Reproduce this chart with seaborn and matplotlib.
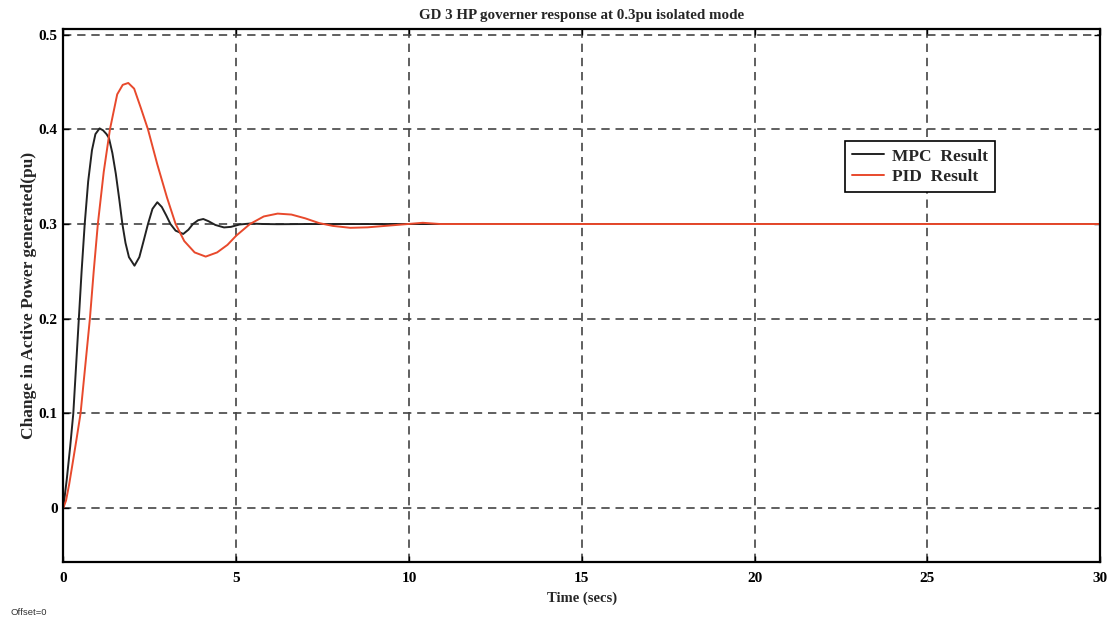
import numpy as np
import pandas as pd
import matplotlib
matplotlib.use("Agg")
import matplotlib.pyplot as plt
import seaborn as sns

# ---- data ----
mpc_t = [0, 0.1, 0.2, 0.29, 0.37, 0.45, 0.53, 0.62, 0.72, 0.83, 0.93, 1.05, 1.15, 1.25,
         1.32, 1.42, 1.52, 1.62, 1.71, 1.8, 1.9, 2.06, 2.2, 2.33, 2.45, 2.58, 2.72, 2.85,
         2.98, 3.1, 3.25, 3.47, 3.62, 3.75, 3.9, 4.05, 4.2, 4.4, 4.65, 4.85, 5.1, 5.4,
         5.8, 6.2, 7.0, 10.0, 30.0]
mpc_y = [0, 0.03, 0.065, 0.1, 0.15, 0.2, 0.25, 0.3, 0.345, 0.378, 0.395, 0.401, 0.399, 0.395,
         0.391, 0.375, 0.353, 0.326, 0.3, 0.28, 0.265, 0.256, 0.265, 0.283, 0.3, 0.316,
         0.323, 0.318, 0.309, 0.3, 0.293, 0.2895, 0.294, 0.3, 0.304, 0.3053, 0.303, 0.299,
         0.2964, 0.297, 0.2995, 0.3005, 0.3, 0.2998, 0.3, 0.3, 0.3]

pid_t = [0, 0.08, 0.17, 0.26, 0.38, 0.5, 0.63, 0.77, 0.88, 1.0, 1.17, 1.35, 1.56, 1.72, 1.88,
         2.05, 2.24, 2.45, 2.72, 3.0, 3.25, 3.5, 3.8, 4.12, 4.45, 4.75, 5.0, 5.4, 5.8, 6.2,
         6.6, 7.0, 7.4, 7.8, 8.3, 8.8, 9.3, 9.8, 10.4, 10.9, 12.0, 30.0]
pid_y = [0, 0.008, 0.025, 0.045, 0.072, 0.1, 0.148, 0.2, 0.25, 0.3, 0.355, 0.4, 0.437, 0.447,
         0.449, 0.443, 0.423, 0.4, 0.363, 0.328, 0.3, 0.282, 0.27, 0.2656, 0.27, 0.278,
         0.2876, 0.3, 0.308, 0.311, 0.31, 0.306, 0.301, 0.298, 0.296, 0.2965, 0.298, 0.2995,
         0.3013, 0.3, 0.3, 0.3]

series_names = ["MPC  Result", "PID  Result"]
x_ticks = [0, 5, 10, 15, 20, 25, 30]
y_ticks = [0, 0.1, 0.2, 0.3, 0.4, 0.5]
y_tick_labels = ["0", "0.1", "0.2", "0.3", "0.4", "0.5"]

title = "GD 3 HP governer response at 0.3pu isolated mode"
x_label = "Time (secs)"
y_label = "Change in Active Power generated(pu)"

df = pd.concat([
    pd.DataFrame({"t": mpc_t, "p": mpc_y, "series": series_names[0]}),
    pd.DataFrame({"t": pid_t, "p": pid_y, "series": series_names[1]}),
], ignore_index=True)

sns.set_theme(style="white")
plt.rcParams["font.family"] = ["Liberation Serif", "DejaVu Serif"]

fig = plt.figure(figsize=(11.18, 6.21), dpi=100)
ax = fig.add_axes([0.0566, 0.095, 0.9276, 0.8583])

palette = {series_names[0]: "#222222", series_names[1]: "#e8492c"}
sns.lineplot(data=df, x="t", y="p", hue="series", palette=palette, ax=ax,
             linewidth=1.4, sort=False, estimator=None, legend=True)

ax.set_xlim(0, 30)
ax.set_ylim(-0.057, 0.506)
ax.set_xticks(x_ticks)
ax.set_xticklabels([str(v) for v in x_ticks], fontweight="bold", fontsize=11)
ax.set_yticks(y_ticks)
ax.set_yticklabels(y_tick_labels, fontweight="bold", fontsize=11)

ax.grid(True, color="#444444", linestyle=(0, (5, 3.5)), linewidth=1.2)
ax.tick_params(direction="in", length=4, width=1, colors="black",
               top=True, right=True, bottom=True, left=True)
ax.tick_params(axis="x", pad=7)
ax.tick_params(axis="y", pad=4)
for s in ax.spines.values():
    s.set_color("black")
    s.set_linewidth(1.6)

ax.set_title(title, fontweight="bold", fontsize=10.8, pad=7)
ax.set_xlabel(x_label, fontweight="bold", fontsize=10.5, labelpad=5)
ax.set_ylabel(y_label, fontweight="bold", fontsize=12.5, labelpad=1.5)

leg = ax.legend(loc="upper left", bbox_to_anchor=(0.754, 0.789), frameon=True,
                fancybox=False, edgecolor="black", framealpha=1, borderaxespad=0,
                prop={"weight": "bold", "size": 12.5, "family": "Liberation Serif"},
                handlelength=1.85, borderpad=0.4, labelspacing=0.25, handletextpad=0.45)
leg.get_frame().set_linewidth(1.2)
leg.set_title(None)

fig.text(0.009, 0.01, "Offset=0", fontsize=6.8, color="#333333",
         family=["Liberation Sans", "DejaVu Sans"])

fig.savefig("out.png", dpi=100, facecolor="white")
